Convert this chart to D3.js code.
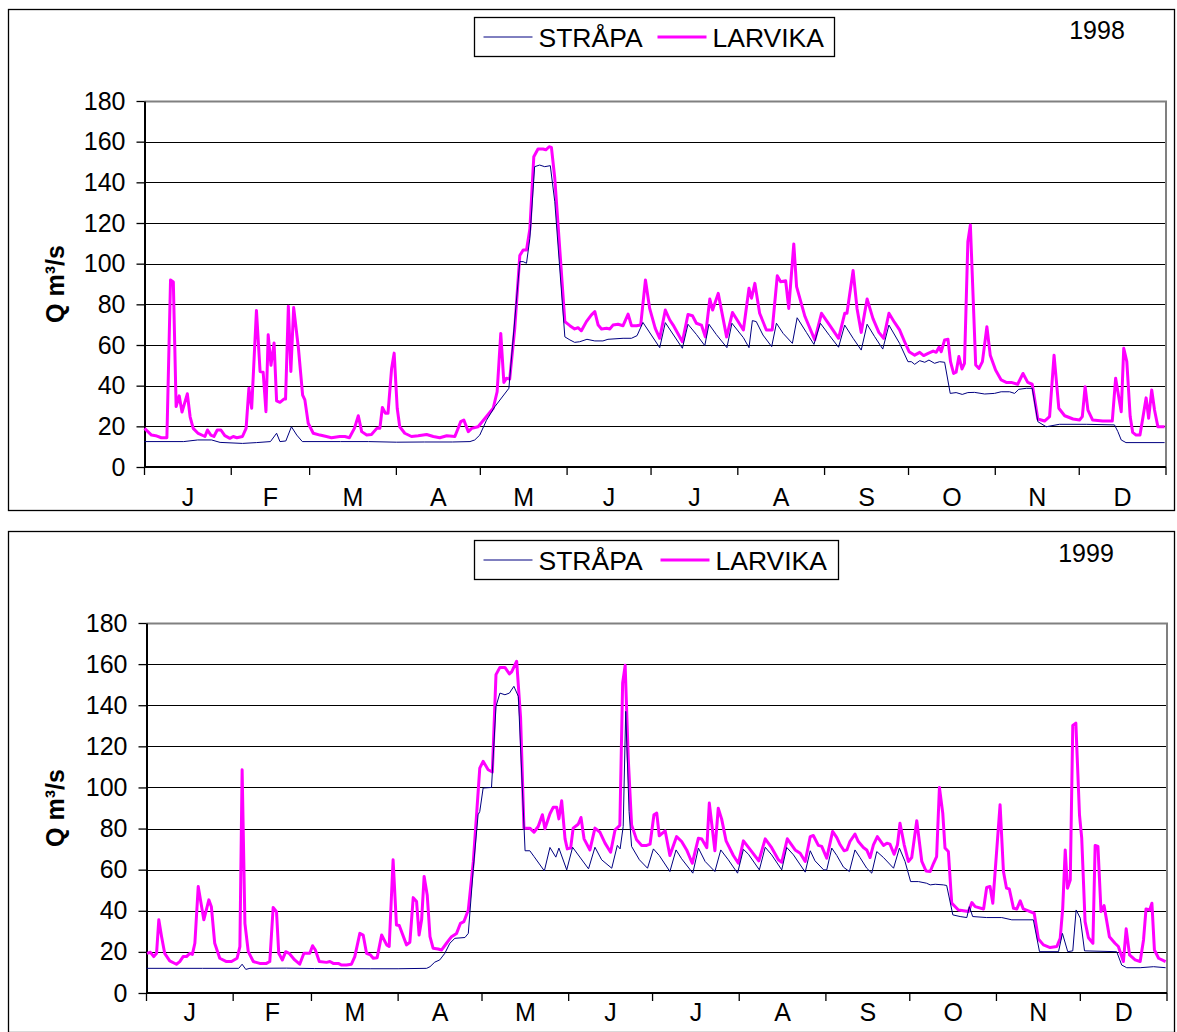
<!DOCTYPE html>
<html>
<head>
<meta charset="utf-8">
<script src="https://cdn.jsdelivr.net/npm/d3@7"></script>
<style>
  body { margin: 0; background: #fff; }
  svg { display: block; font-family: 'Liberation Sans', Arial, sans-serif; }
</style>
</head>
<body>
<script>
;(() => {
  // month labels along the x axis and their lengths (days)
  const months = ['J', 'F', 'M', 'A', 'M', 'J', 'J', 'A', 'S', 'O', 'N', 'D']
  const monthDays = [31, 28, 31, 30, 31, 30, 31, 31, 30, 31, 30, 31]
  const yTicks = [0, 20, 40, 60, 80, 100, 120, 140, 160, 180]
  const seriesNames = ['STRÅPA', 'LARVIKA']
  const years = ['1998', '1999']
  const yLabel = 'Q m³/s'

  // daily discharge, as [day of year, Q]
  const strapa1998 = [[0,12.5],[14,12.5],[19,13.3],[24,13.3],[27,12.1],[35,11.6],[40,12],[45,12.5],[47.2,16.6],[48.4,12.5],[50.5,12.8],[52.5,19.8],[54.4,15.7],[56.4,12.5],[70,12.5],[80,12.5],[90,12.2],[100,12.3],[110,12.3],[116.3,12.5],[118,13.3],[119.8,15.7],[122.2,23],[125.2,29.7],[130.2,38.7],[134.1,101],[135.3,101],[136.5,100.2],[137.7,112.5],[139.4,147.7],[141.2,148.5],[143,147.7],[145,148.2],[146.6,130.5],[150.2,64],[152,62.5],[153.7,61.3],[155.5,61.6],[158.1,62.8],[160.9,62],[163.8,62],[165.6,62.8],[171,63.3],[174,63.3],[176,64.6],[178.1,71.1],[181.1,64.9],[184.1,58.7],[186.1,71],[192.2,58.4],[194.2,70.2],[197.2,65.2],[200.2,59.7],[201.7,70.2],[204.3,65.2],[208.1,58.7],[209.9,70.7],[214,63.6],[216,58.7],[217.2,72],[218.6,71.5],[221,64.9],[224.1,59.2],[225.8,70.7],[228.2,65.7],[231.5,60.8],[233.2,73.4],[236.5,66.2],[239.2,60.3],[241.5,70.7],[244.8,64.6],[248,58.9],[250.2,69.8],[253.2,63.3],[256.1,57.5],[258.2,70.2],[260.9,64.1],[263.8,58],[266,69.8],[269.8,60.8],[272.8,51.8],[274,51.8],[275.2,50.5],[277,52.3],[278.8,51.5],[280.3,52.6],[282.3,51],[284.1,51.8],[285.9,51.5],[287.9,36.2],[290,36.6],[292.2,35.7],[294.2,36.6],[296.6,36.7],[300.2,35.9],[303.7,36.2],[306.1,37],[309.1,37],[310.9,36.2],[312.4,38.2],[315.1,38.7],[317.2,38.7],[319.2,22.3],[322.2,19.8],[326.9,21],[336.5,21],[346.6,20.7],[347.8,17.4],[349,13.3],[350.7,12],[364.5,12]]

  const larvika1998 = [[0,19],[2.5,15.7],[4,15.4],[6,14.4],[8,14.4],[9.3,92],[10.3,91],[11.3,29.7],[12.4,35],[13.4,27],[15.3,36],[16.3,24.7],[17.4,19],[19.2,16.5],[21.6,15],[22.5,18.2],[23.7,15.7],[24.8,15],[26,18.2],[27.3,18.2],[28.7,15.4],[30.5,14.1],[31.7,15],[33,14.4],[35,15],[36.3,19],[37.3,38.7],[38.3,28.9],[40,77],[41.3,47],[42.4,46.6],[43.4,27.2],[44.2,65],[45.2,50],[46.3,61],[47.2,32.5],[48.4,31.8],[49.8,33.4],[50.4,33.4],[51.4,79],[52.3,47],[53.3,78.4],[55,58.4],[56.5,35.4],[57.3,33],[58.5,21.5],[60.3,16.6],[62.7,15.7],[65,15],[66.8,14.4],[69.8,15],[71.6,15],[73.2,14.4],[75,19],[76.4,25.2],[77.6,17.4],[79.4,15.7],[81.1,16],[83,19],[84.1,19],[85,29.3],[86.1,26.4],[87,26.4],[88.3,48.5],[89.2,56],[90.3,28.9],[91.2,19.8],[93,16.6],[95.4,15],[97.8,15.4],[100.8,16],[103.2,15],[105.5,14.4],[108,15.4],[110.9,15],[113,22.3],[114.1,23.1],[115.7,17.4],[116.9,19],[119.2,19.8],[122.2,24.8],[124.6,28.9],[126,37],[127.3,65.7],[128.4,41.6],[129.3,43.6],[130.5,43.3],[132.3,68.2],[134.1,104],[135.3,106.7],[136.5,106.7],[137.7,117],[139.1,152.6],[140.6,156.4],[142.4,156.4],[143.4,156],[144.6,157.5],[145.4,157.2],[146.6,142],[150.2,71.5],[152,69.5],[153.7,67.9],[154.9,68.5],[156.1,67],[157.9,71.5],[159.7,74.8],[160.9,76.4],[162.1,69.8],[163.3,67.9],[165.1,68.2],[166.3,67.9],[167.4,69.8],[169.2,70.2],[171,69.5],[172.8,75.2],[174,69.5],[175.8,69.5],[177.3,69.8],[179,92],[180.5,78],[182.5,68.2],[184.1,63.3],[186.1,77.2],[187.7,72.3],[188.9,69.8],[192.2,61.6],[194.2,75],[195.8,74.4],[197.2,70.7],[199,69.8],[200.4,64],[202,82.6],[203,77.2],[205,85.4],[208,64],[210.1,76],[214,67.4],[216,87.9],[216.9,83],[218.1,90.3],[219.8,75.6],[222.2,67.4],[224.3,67.4],[226.1,94],[227.3,91.1],[229.1,91.6],[230.2,78],[232,109.7],[233,88.7],[236,74],[239.5,62.5],[241.9,75.6],[244.8,69.8],[248,63.3],[250.2,75.6],[251,75.6],[253.2,96.6],[254.6,78],[256.1,66.2],[258.2,82.6],[260.3,73],[262.4,66.2],[264.1,63.3],[266,75.6],[268,71.1],[269.8,67.4],[271.6,61.6],[273.2,56.7],[275.2,55],[277,56.4],[278.4,54.8],[280,55.9],[281.8,57],[282.9,56.4],[283.9,58.9],[284.7,56.7],[285.9,62.5],[287.1,62.8],[288,51.8],[289.1,46],[290,46.6],[291,54.3],[292.1,48.2],[293,51],[294.2,110.8],[295.1,119],[297,50.2],[298.2,48.5],[299.4,51.8],[301,69],[302.2,55],[304.1,47.7],[306.1,42.8],[307.9,41.6],[309.7,41.6],[312,40.7],[313.9,46],[315.6,41.6],[317.2,40.7],[319.2,23.6],[321.6,22.6],[323.4,24.8],[325,55],[326.7,28.9],[328.8,25.2],[331.8,23.6],[334.1,23.1],[335.1,24.8],[336.1,39.5],[337.1,28],[338.8,23.1],[342.4,22.6],[345.8,22.6],[347,43.6],[349,27.2],[349.9,58.4],[351,51.8],[352.2,24.8],[353.1,17],[354.3,15.7],[355.7,15.7],[356.7,24],[357.9,34],[358.8,24],[359.9,37.9],[360.9,28],[362.1,19.8],[364.5,19.8]]

  const strapa1999 = [[0,12],[20,12],[33,12],[34.2,14],[35.5,11.5],[37,12],[50,12.1],[60,11.9],[80,11.8],[90,11.8],[100.2,12],[101.4,12.8],[103.1,15],[104.9,16.1],[106.7,19.3],[108.5,24.2],[110.3,26.6],[113.9,27],[115.1,29],[116.9,60.7],[118.6,86.7],[119.2,88.3],[120.4,99.7],[123.4,100],[125,139.4],[126.4,145.9],[128.2,145.1],[129.8,145.9],[131.4,149.2],[133,144.3],[135.4,69.2],[137.1,69.2],[138.6,66.4],[142.3,59.4],[144.3,70.8],[146.4,66.1],[147.5,70.5],[150.3,59.9],[152.4,70.9],[158.1,60.4],[160.4,70.9],[162.8,64.8],[166.4,60.7],[168.4,71.8],[169.4,70.1],[170.5,81],[171.4,137],[172.6,88.3],[173.5,71.3],[176.3,64.8],[179.2,60.7],[181.3,70.1],[183.4,66.9],[187.2,59.1],[189.4,69.6],[191.4,65.3],[195.4,58.3],[197.4,70.5],[199.8,64],[203.3,59.1],[205.4,69.6],[208.1,64.8],[211.4,58.3],[213.5,69.9],[215.3,67.5],[219.2,59.9],[221.3,70.9],[223.6,67.2],[227.2,59.9],[229,70.8],[231.4,67.2],[235.6,58.8],[237.4,69.2],[239.1,64.3],[242.2,59.9],[243.3,59.9],[245.1,70.5],[246.9,66.9],[249.3,61.2],[251.4,59.1],[253.4,69.6],[255.2,65.9],[257.6,60.7],[259.4,58.3],[261.2,68.8],[263.6,65.9],[267.2,60.7],[269.3,70.5],[271.3,64],[273.3,54.2],[276.1,54.2],[279,53.4],[280.3,52.6],[282.1,52.9],[285,52.6],[286.2,52.3],[288.4,38],[291,37.2],[293.4,36.7],[294.3,42],[295.5,37.2],[300.5,36.7],[305.9,36.7],[309.5,35.6],[317.2,35.6],[319.4,20.1],[326.2,20.1],[327.6,29],[329.5,20.1],[331.3,20.5],[332.5,40.4],[334,36.4],[335.5,20.5],[347,20.1],[348.8,13.6],[350.6,12.3],[355.4,12.3],[360.2,12.8],[364.5,12.3]]

  const larvika1999 = [[0.2,19.3],[1.4,19.8],[2.6,17.7],[3.6,19.3],[4.4,35.6],[5.4,27.4],[6.5,19.3],[8.3,15.6],[10.7,14],[11.9,15.3],[13.1,17.7],[14.3,17.7],[15.5,19.3],[16.4,18.8],[17.3,24.2],[18.5,51.8],[20.5,35.6],[22.3,45.3],[23.2,42],[24.4,24.2],[26.2,16.9],[28.6,15.3],[30.4,15.3],[32.4,16.9],[33.4,22.6],[34.2,108.6],[35.2,33.9],[36.4,20.1],[38.2,15.3],[40.5,14.4],[42.9,14.4],[44.1,15.3],[45.3,41.6],[46.5,39.6],[47.3,19.3],[48.6,16.1],[49.8,20.1],[51,19.3],[53,16.1],[54.8,14],[56.3,19.3],[58.4,19.3],[59.4,23],[60.4,20.9],[61.8,15.3],[64.4,14.9],[65.6,15.3],[66.8,14.4],[68.6,14.4],[69.8,13.6],[71.5,13.6],[73.3,14],[74.5,17.7],[76.3,29],[77.5,28.2],[78.7,19.3],[80.1,18.5],[81.1,16.9],[82.5,17.2],[84.1,28.2],[85.9,23.4],[86.8,22.6],[88.2,64.8],[89.4,33.1],[90.4,32.8],[93,23.4],[94.2,24.7],[95.4,46.4],[96.6,44.5],[97.5,28.2],[98.4,35.6],[99.3,56.7],[100.4,47.7],[101.4,27.4],[102.5,21.8],[104.3,21.4],[105.5,20.9],[107.3,24.2],[109.1,27.4],[110.9,29],[112.3,33.9],[113.5,34.7],[115.1,40.4],[116.9,64],[119.2,109.4],[120.4,112.7],[122.2,108.6],[123.7,107.5],[125,154.9],[126.4,158.4],[128.2,158.4],[129.8,155.2],[130.6,156.2],[132.4,161.4],[133.8,133.8],[135,80.2],[137.1,80.2],[138.6,78.2],[140.1,81],[141.6,86.7],[142.5,79.9],[144.3,87.2],[145.5,90.4],[146.7,90.4],[147.5,84.7],[148.5,93.5],[149.7,75],[150.5,70.1],[151.7,70.5],[152.6,80.2],[154.4,82.1],[155.4,85.4],[156.5,75],[158.6,69.6],[160.4,80.2],[162.2,78.2],[164,72.9],[166,68.5],[167.6,79.4],[169.3,81.5],[170.3,150.8],[171.2,159.4],[172.3,114.3],[173.5,81.8],[175.3,74.5],[177.1,71.8],[178.9,71.8],[180.1,72.4],[181.5,86.7],[182.5,87.5],[183.4,76.5],[185.5,78.9],[187.2,66.9],[189.6,76.1],[191.4,73.7],[193.2,69.6],[195.2,63.1],[197.4,75.3],[198.6,74.9],[200.4,70.7],[201.3,92.4],[203.3,69.2],[204.5,89.9],[205.7,84.7],[207.3,74],[209.9,66.9],[211.7,63.1],[213.5,74],[216,69.6],[219,64.3],[221.3,75],[223.6,70.7],[226,64.8],[227.2,63.6],[229.2,75],[232,69.6],[233.8,68],[235.6,64],[237.4,76.1],[238.5,76.6],[240.3,71.8],[241.5,71.3],[243.3,65.6],[245.4,78.6],[246.9,75.6],[248.1,72.1],[249.5,69.2],[250.5,69.6],[251.6,73.7],[253.4,77.3],[254.6,73.7],[256.4,70.8],[257.6,69.6],[258.8,65.9],[260,72.1],[261.4,76.1],[263.6,71.8],[264.8,72.9],[265.9,72.4],[267.4,67.5],[268.6,72.1],[269.5,82.6],[271,72.1],[272.5,64],[273.7,65.9],[275.5,83.8],[277.3,64],[278.8,59.4],[280.3,59.1],[281.5,63.1],[282.6,66.4],[283.6,100],[284.8,87.5],[285.6,70.5],[286.8,68.8],[288,43.7],[290.4,40.4],[292.8,39.9],[294,39.6],[295.2,44],[296.4,42],[299.4,40.9],[300.5,51.3],[301.7,51.8],[302.7,43.7],[305.3,91.6],[306.5,59.1],[307.6,51],[308.6,50.6],[310.1,41.2],[311.3,40.9],[312.5,44.8],[313.6,40.9],[315.4,39.9],[317.5,38.8],[319,26.3],[320.8,23.4],[323.2,22.1],[325.6,22.6],[326.8,26.6],[327.7,41.2],[328.6,69.6],[329.4,51],[330.4,55],[331.3,130.2],[332.4,131.3],[333.7,86.7],[334.5,75.3],[335.7,34.7],[336.9,26.9],[338.5,24.2],[339.3,71.8],[340.3,71.3],[341.4,39.6],[342.5,42.5],[344.4,27.4],[346.4,24.2],[347.6,22.6],[349.4,15.3],[350.4,31.2],[351.6,18.5],[353.6,16.1],[355.4,15.3],[356.6,25.8],[357.5,40.9],[358.8,40.4],[359.6,43.7],[360.5,20.9],[362,16.9],[364.5,15.3]]

  const colors = ['#000080', '#ff00ff']
  const widths = [1, 3]
  const font = "'Liberation Sans', Arial, sans-serif"

  const svg = d3.select('body').append('svg')
    .attr('width', 1177)
    .attr('height', 1032)

  // one framed panel per year
  const drawPanel = (frame, plot, legend, yearPos, year, series) => {
    const g = svg.append('g')

    g.append('rect')
      .attr('x', frame.x).attr('y', frame.y)
      .attr('width', frame.w).attr('height', frame.h)
      .attr('fill', '#fff').attr('stroke', '#000').attr('stroke-width', 1.3)

    const x = d3.scaleLinear().domain([0, 365]).range([plot.x0, plot.x1])
    const y = d3.scaleLinear().domain([0, 180]).range([plot.y1, plot.y0])

    // horizontal grid
    g.selectAll('.grid')
      .data(yTicks.filter(v => v > 0 && v < 180))
      .enter()
      .append('line')
      .attr('x1', plot.x0).attr('x2', plot.x1)
      .attr('y1', d => Math.round(y(d)) + 0.5).attr('y2', d => Math.round(y(d)) + 0.5)
      .attr('stroke', '#000').attr('stroke-width', 1)

    // gray plot frame at top and right
    g.append('path')
      .attr('d', `M${plot.x0},${Math.round(y(180)) + 0.5}H${plot.x1}V${plot.y1}`)
      .attr('fill', 'none').attr('stroke', '#808080').attr('stroke-width', 2)

    // y axis
    const yAxis = d3.axisLeft(y).tickValues(yTicks).tickSize(8).tickSizeOuter(0).tickPadding(11)
    const ya = g.append('g').attr('transform', `translate(${plot.x0},0)`).call(yAxis)
    ya.select('.domain').attr('stroke', '#000').attr('stroke-width', 2)
    ya.selectAll('.tick line').attr('stroke', '#000').attr('stroke-width', 1.3)
    ya.selectAll('text').attr('font-size', 25).attr('font-family', font).attr('fill', '#000')

    // x axis: ticks at month boundaries, labels in between
    const bounds = [0, ...d3.cumsum(monthDays)]
    const xa = g.append('g')
    xa.append('line')
      .attr('x1', plot.x0).attr('x2', plot.x1)
      .attr('y1', plot.y1).attr('y2', plot.y1)
      .attr('stroke', '#000').attr('stroke-width', 2)
    xa.selectAll('.mt')
      .data(bounds)
      .enter()
      .append('line')
      .attr('x1', d => x(d)).attr('x2', d => x(d))
      .attr('y1', plot.y1).attr('y2', plot.y1 + 8)
      .attr('stroke', '#000').attr('stroke-width', 1.3)
    xa.selectAll('.ml')
      .data(months)
      .enter()
      .append('text')
      .attr('x', (d, i) => x(bounds[i] + monthDays[i] / 2))
      .attr('y', plot.labelY)
      .attr('text-anchor', 'middle')
      .attr('font-size', 25)
      .attr('font-family', font)
      .text(d => d)

    // y title
    g.append('text')
      .attr('transform', `translate(64,${(plot.y0 + plot.y1) / 2}) rotate(-90)`)
      .attr('text-anchor', 'middle')
      .attr('font-size', 25)
      .attr('font-weight', 'bold')
      .attr('font-family', font)
      .text(yLabel)

    // lines, STRÅPA last so it sits on top
    const line = d3.line().x(d => x(d[0])).y(d => y(d[1]))
    ;[1, 0].forEach(i => {
      g.append('path')
        .datum(series[i])
        .attr('d', line)
        .attr('fill', 'none')
        .attr('stroke', colors[i])
        .attr('stroke-width', widths[i])
        .attr('stroke-linejoin', 'round')
    })

    // legend
    const lg = g.append('g')
    lg.append('rect')
      .attr('x', legend.x).attr('y', legend.y)
      .attr('width', legend.w).attr('height', legend.h)
      .attr('fill', '#fff').attr('stroke', '#000').attr('stroke-width', 1.3)
    seriesNames.forEach((name, i) => {
      const lx = legend.x + legend.offsets[i]
      const ly = legend.y + legend.h / 2
      lg.append('line')
        .attr('x1', lx).attr('x2', lx + 49)
        .attr('y1', ly).attr('y2', ly)
        .attr('stroke', colors[i]).attr('stroke-width', widths[i])
      lg.append('text')
        .attr('x', lx + 55).attr('y', ly + 9.5)
        .attr('font-size', 26.5)
        .attr('font-family', font)
        .text(name)
    })

    g.append('text')
      .attr('x', yearPos.x).attr('y', yearPos.y)
      .attr('text-anchor', 'middle')
      .attr('font-size', 25)
      .attr('font-family', font)
      .text(year)
  }

  drawPanel(
    { x: 8.5, y: 9.5, w: 1166, h: 501 },
    { x0: 144.5, x1: 1166, y0: 101, y1: 467, labelY: 506 },
    { x: 474.5, y: 17.5, w: 360, h: 39, offsets: [9, 183] },
    { x: 1097, y: 39 },
    years[0],
    [strapa1998, larvika1998]
  )

  drawPanel(
    { x: 8.5, y: 531.5, w: 1166, h: 501 },
    { x0: 146.5, x1: 1167, y0: 623, y1: 993, labelY: 1021 },
    { x: 474.5, y: 540.5, w: 364, h: 39, offsets: [9, 186] },
    { x: 1086, y: 562 },
    years[1],
    [strapa1999, larvika1999]
  )
})()
</script>
</body>
</html>
